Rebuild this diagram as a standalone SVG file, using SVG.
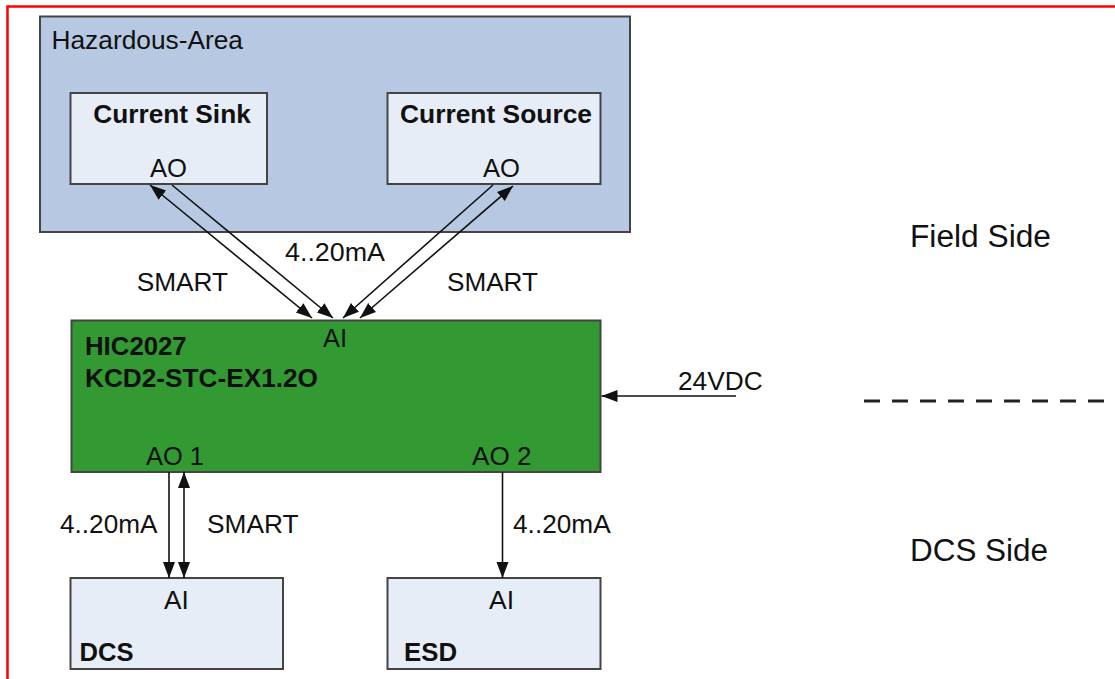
<svg xmlns="http://www.w3.org/2000/svg" width="1115" height="679" viewBox="0 0 1115 679">
<defs>
<style>
.t{font-family:"Liberation Sans",Arial,sans-serif;font-size:25px;fill:#111}
.b{font-weight:bold}
.big{font-size:31px}
.box{stroke:#444;stroke-width:2}
.ln{stroke:#111;stroke-width:1.6;fill:none}
</style>
<marker id="ah" markerUnits="userSpaceOnUse" markerWidth="17" markerHeight="13" refX="16" refY="6" orient="auto-start-reverse" viewBox="0 0 17 13">
<path d="M0,0 L16,6 L0,12 Z" fill="#111"/>
</marker>
</defs>
<rect x="7.5" y="6.5" width="1200" height="800" fill="none" stroke="#ff0000" stroke-width="2.5"/>

<g id="hazardous-area">
<rect class="box" x="40" y="16.5" width="590" height="215.5" fill="#b7c8e2"/>
<text class="t" x="51.5" y="49" textLength="191.5" lengthAdjust="spacingAndGlyphs">Hazardous-Area</text>
</g>

<g id="current-sink">
<rect class="box" x="70.5" y="93" width="196.5" height="91" fill="#e6edf7"/>
<text class="t b" x="93.3" y="123" textLength="157.5" lengthAdjust="spacingAndGlyphs">Current Sink</text>
<text class="t" x="150" y="176.5" textLength="37" lengthAdjust="spacingAndGlyphs">AO</text>
</g>

<g id="current-source">
<rect class="box" x="387.5" y="93" width="213" height="91" fill="#e6edf7"/>
<text class="t b" x="400" y="123" textLength="192" lengthAdjust="spacingAndGlyphs">Current Source</text>
<text class="t" x="483" y="176.5" textLength="37" lengthAdjust="spacingAndGlyphs">AO</text>
</g>

<g id="kcd2">
<rect class="box" x="71.5" y="320.5" width="529" height="151.5" fill="#339933"/>
<text class="t" x="323" y="346.5" textLength="24" lengthAdjust="spacingAndGlyphs">AI</text>
<text class="t b" x="85" y="355" textLength="101.7" lengthAdjust="spacingAndGlyphs">HIC2027</text>
<text class="t b" x="85" y="386.5" textLength="233" lengthAdjust="spacingAndGlyphs">KCD2-STC-EX1.2O</text>
<text class="t" x="146" y="465" textLength="58" lengthAdjust="spacingAndGlyphs">AO 1</text>
<text class="t" x="472" y="465" textLength="59.5" lengthAdjust="spacingAndGlyphs">AO 2</text>
</g>

<g id="dcs">
<rect class="box" x="70.5" y="578" width="212.5" height="91" fill="#e6edf7"/>
<text class="t" x="164" y="609" textLength="24.8" lengthAdjust="spacingAndGlyphs">AI</text>
<text class="t b" x="79.6" y="661" textLength="54" lengthAdjust="spacingAndGlyphs">DCS</text>
</g>

<g id="esd">
<rect class="box" x="387.5" y="578" width="213" height="91" fill="#e6edf7"/>
<text class="t" x="489" y="609" textLength="25" lengthAdjust="spacingAndGlyphs">AI</text>
<text class="t b" x="404" y="661" textLength="53" lengthAdjust="spacingAndGlyphs">ESD</text>
</g>

<g id="side-labels">
<text class="t big" x="910" y="246.5" textLength="141" lengthAdjust="spacingAndGlyphs">Field Side</text>
<text class="t big" x="910" y="560.5" textLength="138" lengthAdjust="spacingAndGlyphs">DCS Side</text>
<line x1="864" y1="401" x2="1104" y2="401" stroke="#222" stroke-width="3" stroke-dasharray="16 12"/>
</g>

<g id="connectors">
<line class="ln" x1="150" y1="185" x2="312" y2="318" marker-start="url(#ah)" marker-end="url(#ah)"/>
<line class="ln" x1="172" y1="185" x2="333" y2="318" marker-end="url(#ah)"/>
<line class="ln" x1="493" y1="185" x2="343" y2="318" marker-end="url(#ah)"/>
<line class="ln" x1="513" y1="186" x2="360" y2="318" marker-start="url(#ah)" marker-end="url(#ah)"/>
<line class="ln" x1="169" y1="472" x2="169" y2="578" marker-end="url(#ah)"/>
<line class="ln" x1="184" y1="472" x2="184" y2="578" marker-start="url(#ah)" marker-end="url(#ah)"/>
<line class="ln" x1="502.5" y1="472" x2="502.5" y2="578" marker-end="url(#ah)"/>
<line class="ln" x1="736" y1="396" x2="601.5" y2="396" marker-end="url(#ah)"/>
<text class="t" x="285" y="260.5" textLength="100" lengthAdjust="spacingAndGlyphs">4..20mA</text>
<text class="t" x="136.7" y="290.5" textLength="91.3" lengthAdjust="spacingAndGlyphs">SMART</text>
<text class="t" x="447" y="290.5" textLength="91" lengthAdjust="spacingAndGlyphs">SMART</text>
<text class="t" x="60" y="533" textLength="97.5" lengthAdjust="spacingAndGlyphs">4..20mA</text>
<text class="t" x="207" y="533" textLength="91.5" lengthAdjust="spacingAndGlyphs">SMART</text>
<text class="t" x="513" y="533" textLength="97.7" lengthAdjust="spacingAndGlyphs">4..20mA</text>
<text class="t" x="678" y="390" textLength="84.7" lengthAdjust="spacingAndGlyphs">24VDC</text>
</g>
</svg>
